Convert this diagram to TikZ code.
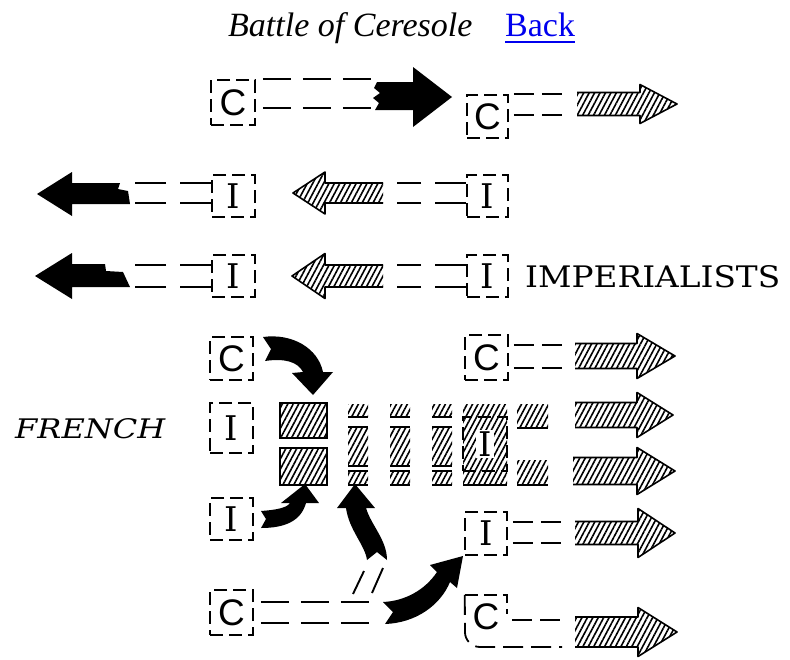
\documentclass[tikz,border=0pt]{standalone}
\usepackage{fontspec}
\setmainfont{Liberation Serif}
\newfontfamily\slabfont{DejaVu Serif}
\newfontfamily\boxsans{Liberation Sans}
\usetikzlibrary{patterns.meta}
\definecolor{linkblue}{RGB}{0,0,238}
\tikzset{
  hatch/.style={pattern={Lines[angle=62,distance=4.8pt,line width=1.6pt]}},
  aline/.style={line width=1.6pt, line join=round},
  box/.style={draw, line width=1.7pt, dash pattern=on 13pt off 6pt, inner sep=0pt, minimum width=43pt, minimum height=43pt},
  cbox/.style={box, font=\fontsize{37}{37}\selectfont\boxsans},
  ibox/.style={box, font=\fontsize{34}{34}\selectfont\slabfont},
  connL/.style={line width=1.8pt, dash pattern=on 28pt off 12pt},
  connM/.style={line width=1.8pt, dash pattern=on 31pt off 14pt},
  connS/.style={line width=1.8pt, dash pattern=on 20pt off 8pt},
  barline/.style={line width=1.8pt},
}
% hatched arrow: #1 shaft start x, #2 head base x, #3 tip x, #4 centre y, #5 shaft half height, #6 head half height
\newcommand\harrow[6]{%
  \fill[hatch] (#1,#4-#5) -- (#2,#4-#5) -- (#2,#4-#6) -- (#3,#4) -- (#2,#4+#6) -- (#2,#4+#5) -- (#1,#4+#5) -- cycle;
  \draw[aline] (#1,#4-#5) -- (#2,#4-#5) -- (#2,#4-#6) -- (#3,#4) -- (#2,#4+#6) -- (#2,#4+#5) -- (#1,#4+#5);}
% hatched broken column
\newcommand\hcol[2]{%
  \fill[hatch] (#1,404) rectangle (#2,416);
  \fill[hatch] (#1,428) rectangle (#2,465);
  \fill[hatch] (#1,472) rectangle (#2,484);
  \draw[barline] (#1,417) -- (#2,417) (#1,427) -- (#2,427) (#1,466) -- (#2,466) (#1,471) -- (#2,471) (#1,485) -- (#2,485);}
\begin{document}
\begin{tikzpicture}[x=1pt,y=-1pt]
\useasboundingbox (0,0) rectangle (790,659);
% title
\node[anchor=base west, inner sep=0pt, font=\fontsize{34}{34}\selectfont\itshape] (title) at (228,36) {Battle of Ceresole};
\node[anchor=base west, inner sep=0pt, font=\fontsize{34}{34}\selectfont, text=linkblue] (back) at (505,36) {Back};
\draw[linkblue, line width=1.8pt] ([yshift=-6pt]back.base west) -- ([yshift=-6pt]back.base east);

% ---------- row 0
\node[cbox, minimum width=44pt, minimum height=45pt] (c0) at (233,102.5) {C};
\draw[connL, dash phase=33pt] (c0.north east) -- ++(120,0);
\draw[connL, dash phase=33pt] (c0.east) ++(0,5.5) -- ++(120,0);
\fill (377,82) -- (413,82) -- (413,67) -- (452,97) -- (413,127) -- (413,110) -- (375,110) -- (379,103) -- (373,98) -- (380,93) -- (374,88) -- cycle;
\node[cbox, minimum width=41pt, minimum height=43pt] (c0r) at (487.5,116.5) {C};
\draw[connS, dash phase=23pt] (c0r.north east) -- ++(54,0);
\draw[connS, dash phase=23pt] (c0r.east) ++(0,-1.5) -- ++(54,0);
\harrow{577}{640}{677}{104}{11.5}{19.5}

% ---------- row 1
\node[ibox, minimum height=42pt] (i1a) at (233.5,196) {I};
\draw[connM] (i1a.west) ++(0,-13) -- ++(-77,0);
\draw[connM] (i1a.west) ++(0,7) -- ++(-77,0);
\fill (37,194) -- (72,172) -- (72,183) -- (120,183) -- (118,189) -- (128,191) -- (130,204) -- (72,204) -- (72,216) -- cycle;
\node[ibox, minimum width=41pt, minimum height=42pt] (i1b) at (487.5,196) {I};
\draw[connM] (i1b.west) ++(0,-13) -- ++(-69,0);
\draw[connM] (i1b.west) ++(0,7) -- ++(-69,0);
\harrow{383}{325}{293}{193}{10}{21}

% ---------- row 2
\node[ibox, minimum height=42pt] (i2a) at (233.5,276) {I};
\draw[connM] (i2a.west) ++(0,-11) -- ++(-77,0);
\draw[connM] (i2a.west) ++(0,11) -- ++(-77,0);
\fill (35,276) -- (72,253) -- (72,264) -- (105,264) -- (106,271) -- (123,272) -- (130,287) -- (72,287) -- (72,299) -- cycle;
\node[ibox, minimum width=41pt, minimum height=42pt] (i2b) at (487.5,276) {I};
\draw[connM] (i2b.west) ++(0,-11) -- ++(-69,0);
\draw[connM] (i2b.west) ++(0,11) -- ++(-69,0);
\harrow{383}{325}{292}{276}{11}{22.5}
\node[anchor=base west, inner sep=0pt] (imp) at (525,287) {\resizebox{255pt}{22pt}{\slabfont IMPERIALISTS}};

% ---------- row 3
\node[cbox] (c3a) at (231.5,358.5) {C};
\fill (263,337) .. controls (292,333) and (318,348) .. (323,372) -- (333,372) -- (313,395) -- (292,373) -- (303,372) .. controls (298,362) and (285,358) .. (265,361) -- (271,349) -- cycle;
\node[cbox, minimum height=45pt] (c3b) at (486.5,357.5) {C};
\draw[connS, dash phase=23pt] (c3b.east) ++(0,-12.5) -- ++(54,0);
\draw[connS, dash phase=23pt] (c3b.east) ++(0,10.5) -- ++(54,0);
\harrow{575}{637}{675}{356}{12.5}{22.5}

% ---------- row 4 (French centre)
\node[anchor=base west, inner sep=0pt] (french) at (15,438) {\resizebox{150pt}{20pt}{\slabfont\itshape FRENCH}};
\node[ibox, minimum height=50pt] (i4a) at (231.5,428) {I};
\draw[hatch, line width=1.9pt] (280,403) rectangle (327,438);
\draw[hatch, line width=1.9pt] (280,448) rectangle (327,485);
\hcol{348}{368}
\hcol{390}{410}
\hcol{432}{452}
\fill[hatch] (463,404) rectangle (507,484);
\draw[barline] (463,485) -- (507,485);
\node[ibox, minimum width=44pt, minimum height=54pt, text opacity=0] (i4h) at (485,444) {I};
\node[fill=white, inner sep=2pt, font=\fontsize{34}{34}\selectfont\slabfont] at (i4h.center) {I};
\fill[hatch] (517,404) rectangle (548,427);
\draw[barline] (517,428) -- (548,428);
\fill[hatch] (517,460) rectangle (548,484);
\draw[barline] (517,485) -- (548,485);
\harrow{575}{637}{673}{415}{12.5}{22.5}
\harrow{573}{637}{675}{471}{13.5}{23.5}

% ---------- row 5
\node[ibox, minimum height=42pt] (i5a) at (231.5,519) {I};
\fill (261,511) .. controls (275,510) and (287,508) .. (290,503) -- (281,503) -- (305,484) -- (319,503) -- (306,503) .. controls (301,521) and (285,528) .. (261,528) -- (266,519) -- cycle;
\node[ibox, minimum width=42pt] (i5b) at (486,533.5) {I};
\draw[connS, dash phase=23pt] (i5b.east) ++(0,-11.5) -- ++(55,0);
\draw[connS, dash phase=23pt] (i5b.east) ++(0,9.5) -- ++(55,0);
\harrow{575}{638}{675}{533}{11.5}{24.5}

% ---------- row 6
\node[cbox, minimum height=45pt] (c6a) at (231.5,612.5) {C};
\draw[connL, dash phase=33pt] (c6a.east) ++(0,-10.5) -- ++(122,0);
\draw[connL, dash phase=33pt] (c6a.east) ++(0,10.5) -- ++(122,0);
\fill (383,602) .. controls (405,601) and (425,590) .. (437,572) -- (430,565) -- (463,556) -- (457,588) -- (450,582) .. controls (440,606) and (415,623) .. (385,624) -- (393,612) -- cycle;
\fill (355,484) -- (375,508) -- (366,508) .. controls (371,525) and (387,540) .. (387,560) -- (377,552) -- (367,560) .. controls (365,545) and (349,530) .. (346,508) -- (337,508) -- cycle;
\draw[line width=1.9pt] (353,594) -- (364,571);
\draw[line width=1.9pt] (372,593) -- (383,568);
\node[inner sep=0pt, minimum width=42pt, minimum height=44pt, font=\fontsize{37}{37}\selectfont\boxsans] (c6b) at (486,617) {C};
\draw[box] (c6b.north west) -- (c6b.north east) -- ++(0,19);
\draw[connS, rounded corners=15pt] (c6b.north west) -- (465,647) -- (562,647);
\draw[connS, dash phase=23pt] (507,620) -- (562,620);
\harrow{575}{638}{677}{632}{15}{24.5}
\end{tikzpicture}
\end{document}
